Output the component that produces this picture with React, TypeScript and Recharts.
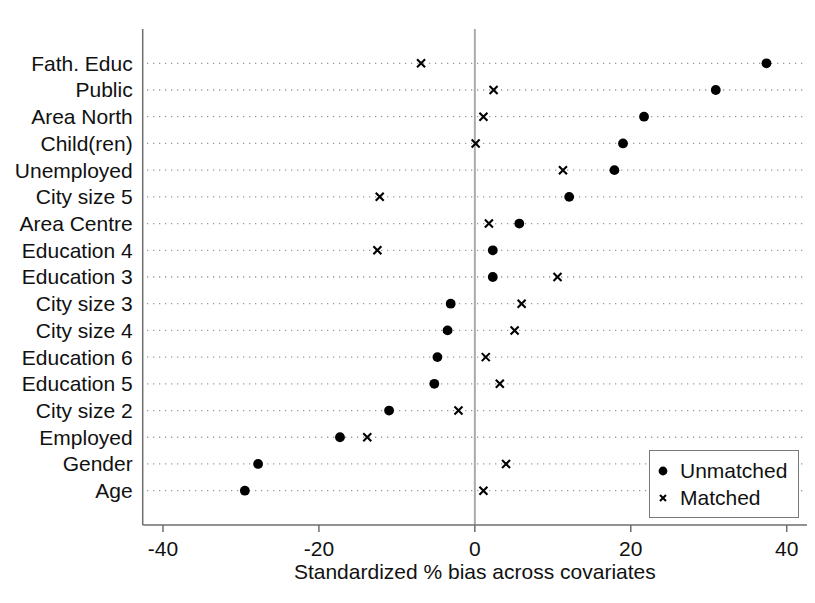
import React from 'react';
import { ScatterChart, Scatter, XAxis, YAxis, ReferenceLine, Legend } from 'recharts';

const categories = [
  'Fath. Educ', 'Public', 'Area North', 'Child(ren)', 'Unemployed', 'City size 5',
  'Area Centre', 'Education 4', 'Education 3', 'City size 3', 'City size 4',
  'Education 6', 'Education 5', 'City size 2', 'Employed', 'Gender', 'Age',
];
const unmatched = [37.4, 30.9, 21.7, 19.0, 17.9, 12.1, 5.7, 2.3, 2.3, -3.1, -3.5, -4.8, -5.2, -11.0, -17.3, -27.8, -29.5];
const matched = [-6.9, 2.4, 1.1, 0.1, 11.3, -12.2, 1.8, -12.5, 10.6, 6.0, 5.1, 1.4, 3.2, -2.1, -13.8, 4.0, 1.1];
const xTicks = [-40, -20, 0, 20, 40];
const seriesNames = ['Unmatched', 'Matched'];

const catIndex = categories.map((_, i) => i);
const unmatchedData = categories.map((name, i) => ({ name, idx: i, x: unmatched[i] }));
const matchedData = categories.map((name, i) => ({ name, idx: i, x: matched[i] }));

const FONT = '"Liberation Sans", Arial, Helvetica, sans-serif';
const TEXT = '#111';
const AXIS = '#6e6e6e';

const DotShape = (props: any) => {
  const { cx, cy } = props;
  if (cx == null || cy == null) return null;
  return <circle cx={cx} cy={cy} r={4.9} fill="#000" />;
};

const CrossShape = (props: any) => {
  const { cx, cy } = props;
  if (cx == null || cy == null) return null;
  const h = 4;
  return (
    <path
      d={`M${cx - h},${cy - h}L${cx + h},${cy + h}M${cx - h},${cy + h}L${cx + h},${cy - h}`}
      stroke="#000"
      strokeWidth={2.1}
      fill="none"
    />
  );
};

const LegendContent = () => (
  <div
    style={{
      border: '1px solid #777',
      background: '#fff',
      width: 148,
      height: 66,
      boxSizing: 'content-box',
      fontFamily: FONT,
      fontSize: 21,
      color: TEXT,
      position: 'relative',
    }}
  >
    {seriesNames.map((n, i) => (
      <div
        key={n}
        style={{ position: 'absolute', left: 0, top: 6 + i * 27, height: 27, display: 'flex', alignItems: 'center' }}
      >
        <svg width={30} height={20} style={{ display: 'block' }}>
          {i === 0 ? (
            <circle cx={13} cy={10} r={4.4} fill="#000" />
          ) : (
            <path d="M10,7L16,13M10,13L16,7" stroke="#000" strokeWidth={2} />
          )}
        </svg>
        <span style={{ lineHeight: '27px' }}>{n}</span>
      </div>
    ))}
  </div>
);

export default function App() {
  return (
    <div style={{ position: 'absolute', left: 0, top: 0, background: '#fff' }}>
      <ScatterChart width={815} height={603} margin={{ top: 29, right: 8, bottom: 0, left: 12.7 }}>
        {catIndex.map((i) => (
          <ReferenceLine
            key={i}
            segment={[{ x: -42.05, y: i }, { x: 42.0, y: i }]}
            stroke="#9a9a9a"
            strokeWidth={1.3}
            strokeDasharray="1.3 4.7"
            ifOverflow="visible"
          />
        ))}
        <ReferenceLine x={0} stroke="#ababab" strokeWidth={2} />
        <XAxis
          type="number"
          dataKey="x"
          domain={[-42.6, 42.6]}
          ticks={xTicks}
          allowDataOverflow
          height={78}
          tickSize={7}
          tickMargin={9}
          stroke={AXIS}
          strokeWidth={1.5}
          tick={{ fill: TEXT, fontSize: 21, fontFamily: FONT }}
          label={{
            value: 'Standardized % bias across covariates',
            position: 'insideBottom',
            offset: 24,
            fill: TEXT,
            fontSize: 21,
            fontFamily: FONT,
          }}
        />
        <YAxis
          type="number"
          dataKey="idx"
          reversed
          domain={[-1.284, 17.285]}
          allowDataOverflow
          ticks={catIndex}
          interval={0}
          tickFormatter={(v: number) => categories[v] ?? ''}
          width={130}
          tickLine={false}
          tickSize={0}
          tickMargin={10}
          stroke={AXIS}
          strokeWidth={1.5}
          tick={{ fill: TEXT, fontSize: 21, fontFamily: FONT }}
        />
        <Scatter name="Unmatched" data={unmatchedData} shape={DotShape} isAnimationActive={false} />
        <Scatter name="Matched" data={matchedData} shape={CrossShape} isAnimationActive={false} />
        <Legend
          layout="vertical"
          align="center"
          verticalAlign="middle"
          content={LegendContent}
          wrapperStyle={{ left: 649, top: 450, width: 150, height: 68, right: 'auto', bottom: 'auto' }}
        />
      </ScatterChart>
    </div>
  );
}
